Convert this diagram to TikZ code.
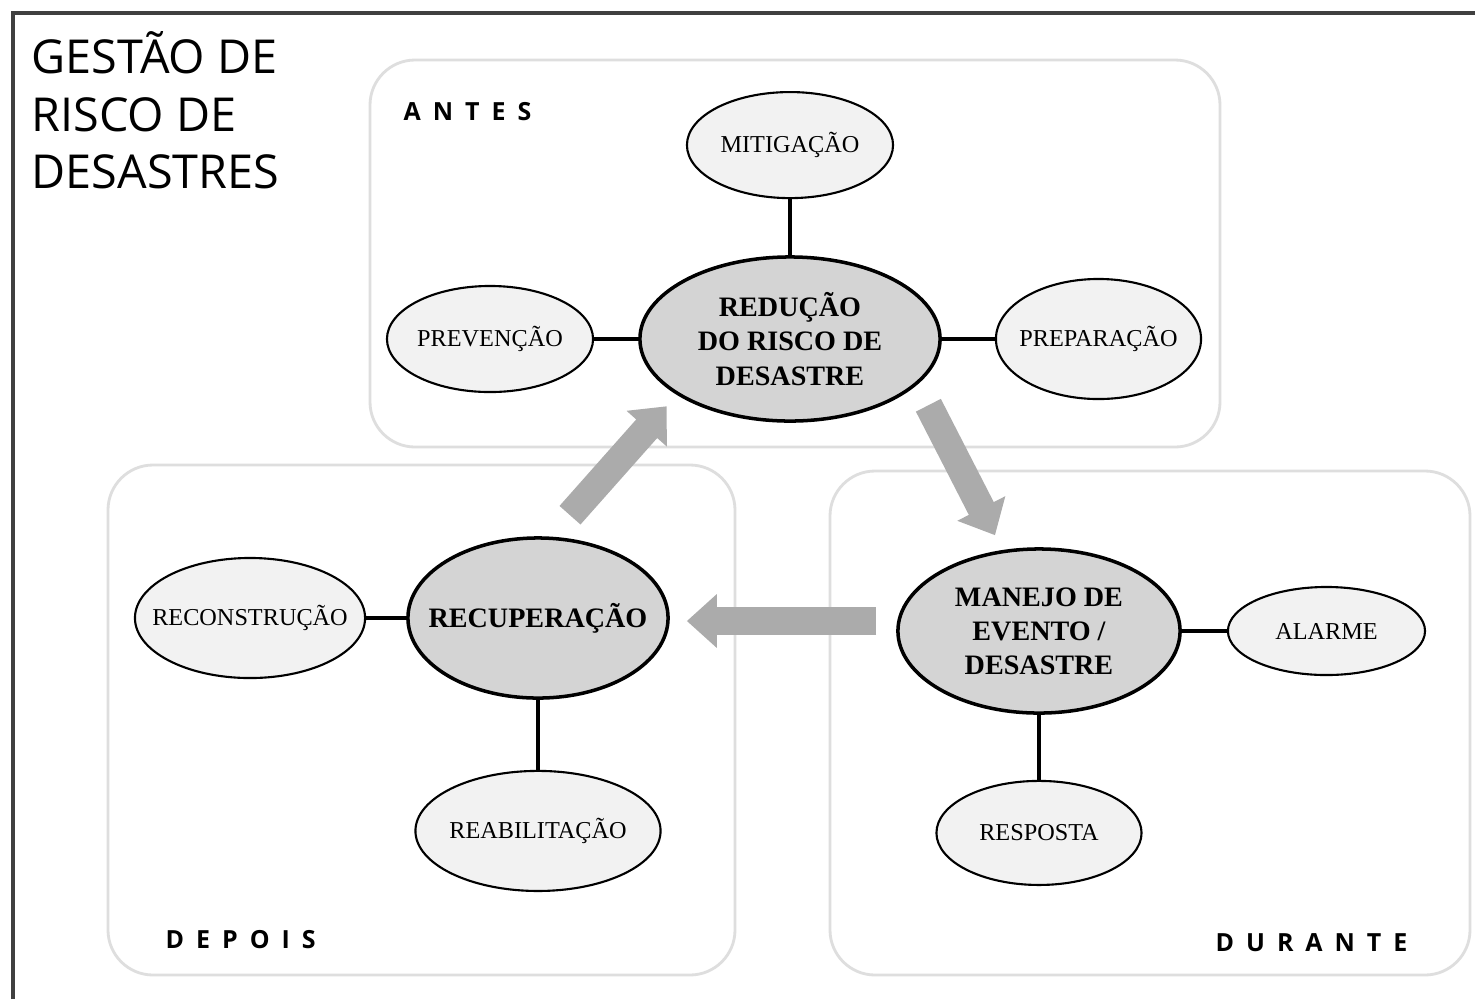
\documentclass[tikz,border=0pt]{standalone}
\usepackage{fontspec}
\setmainfont{Liberation Serif}
\setsansfont{Open Sans}
\usetikzlibrary{shapes.geometric, arrows.meta, positioning}

\begin{document}
\begin{tikzpicture}[x=0.01cm, y=-0.01cm]
\tikzstyle{fase} = [ellipse, draw, line width=1pt, fill=black!17, inner xsep=-0.3cm, inner ysep=0pt, align=center, font=\fontsize{8}{9.7}\selectfont\bfseries]
\tikzstyle{acao} = [ellipse, draw, line width=0.6pt, fill=black!5, inner xsep=-0.3cm, inner ysep=0pt, font=\fontsize{6.9}{8}\selectfont]
\tikzstyle{ligacao} = [line width=0.9pt]
\tikzstyle{seta} = [line width=0.28cm, draw=black!33, -{Triangle[width=0.52cm, length=0.3cm]}]
\tikzstyle{painel} = [draw=black!13, line width=0.8pt, rounded corners=0.45cm]
\tikzstyle{etapa} = [font=\fontsize{7.1}{8}\sffamily\bfseries\addfontfeature{LetterSpace=48}, inner sep=0pt, anchor=base west]

\path[use as bounding box, fill=white] (0,0) rectangle (1475,999);
\draw[line width=1.2pt, black!75] (13,999) -- (13,13) -- (1475,13);

% paineis
\draw[painel] (370,60) rectangle (1220,447);
\draw[painel] (108,465) rectangle (735,975);
\draw[painel] (830,471) rectangle (1470,975);

\node (titulo) [anchor=north west, inner sep=0pt, align=left, font=\fontsize{13.3}{16.3}\sffamily] at (31,31) {GESTÃO DE\\RISCO DE\\DESASTRES};

\node (antes) [etapa] at (403,120) {ANTES};
\node (depois) [etapa] at (165,948) {DEPOIS};
\node (durante) [etapa] at (1215,951) {DURANTE};

% fases
\node (reducao) [fase, minimum width=3cm, minimum height=1.64cm] at (790,339) {REDUÇÃO\\DO RISCO DE\\DESASTRE};
\node (recup) [fase, minimum width=2.6cm, minimum height=1.6cm] at (538,618) {RECUPERAÇÃO};
\node (manejo) [fase, minimum width=2.82cm, minimum height=1.64cm] at (1039,631) {MANEJO DE\\EVENTO /\\DESASTRE};

\node (mitig) [acao, minimum width=2.06cm, minimum height=1.06cm, above=0.56cm of reducao] {MITIGAÇÃO};
\node (prev) [acao, minimum width=2.06cm, minimum height=1.06cm, left=0.44cm of reducao] {PREVENÇÃO};
\node (prep) [acao, minimum width=2.05cm, minimum height=1.2cm, right=0.53cm of reducao] {PREPARAÇÃO};
\node (recon) [acao, minimum width=2.3cm, minimum height=1.2cm, left=0.4cm of recup] {RECONSTRUÇÃO};
\node (reabil) [acao, minimum width=2.45cm, minimum height=1.2cm, below=0.7cm of recup] {REABILITAÇÃO};
\node (alarme) [acao, minimum width=1.97cm, minimum height=0.88cm, right=0.45cm of manejo] {ALARME};
\node (resp) [acao, minimum width=2.05cm, minimum height=1.04cm, below=0.65cm of manejo] {RESPOSTA};

\draw[ligacao] (reducao) -- (mitig);
\draw[ligacao] (reducao) -- (prev);
\draw[ligacao] (reducao) -- (prep);
\draw[ligacao] (recup) -- (recon);
\draw[ligacao] (recup) -- (reabil);
\draw[ligacao] (manejo) -- (alarme);
\draw[ligacao] (manejo) -- (resp);

% ciclo
\draw[seta] ([shift={(32,-21)}]recup.north) -- ([shift={(-16,8)}]reducao.south west);
\draw[seta] ([shift={(31,7)}]reducao.south east) -- ([shift={(-44,-12)}]manejo.north);
\draw[seta] ([shift={(-20,-10)}]manejo.west) -- ([shift={(17,3)}]recup.east);

\end{tikzpicture}
\end{document}
